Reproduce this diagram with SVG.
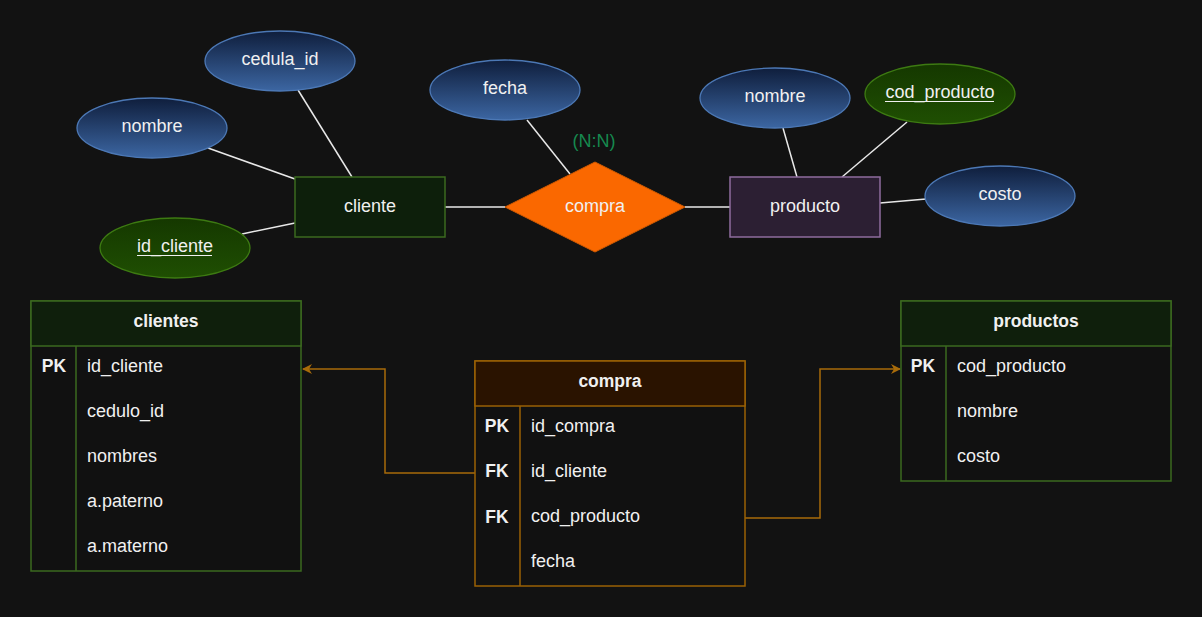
<svg xmlns="http://www.w3.org/2000/svg" width="1202" height="617" viewBox="0 0 1202 617">
<defs>
<linearGradient id="blueGrad" x1="0" y1="0" x2="0" y2="1">
<stop offset="0" stop-color="#0f1e3c"/>
<stop offset="1" stop-color="#3c66a2"/>
</linearGradient>
<linearGradient id="greenGrad" x1="0" y1="0" x2="0" y2="1">
<stop offset="0" stop-color="#153800"/>
<stop offset="1" stop-color="#1f4f02"/>
</linearGradient>
<marker id="arr" viewBox="0 0 10 10" refX="9" refY="5" markerWidth="10" markerHeight="10" markerUnits="userSpaceOnUse" orient="auto">
<path d="M0,0 L10,5 L0,10 L3,5 Z" fill="#a86b0a"/>
</marker>
<style>
text{font-family:"Liberation Sans",Arial,sans-serif;font-size:18px;fill:#f0f0f0}
.c{text-anchor:middle;dominant-baseline:central}
.l{dominant-baseline:central}
.b{font-weight:bold;font-size:17.5px}
.attr{fill:url(#blueGrad);stroke:#4c78b5;stroke-width:1.3}
.key{fill:url(#greenGrad);stroke:#3d7a12;stroke-width:1.3}
.conn{stroke:#e8e8e8;stroke-width:1.5;fill:none}
.fk{stroke:#a86b0a;stroke-width:1.5;fill:none}
.gt{fill:#111111;stroke:#3b6a1f;stroke-width:1.5}
.gh{fill:#0f1f0c;stroke:#3b6a1f;stroke-width:1.5}
.ot{fill:#111111;stroke:#9a6104;stroke-width:1.5}
.oh{fill:#2a1300;stroke:#9a6104;stroke-width:1.5}
.ul{stroke:#f0f0f0;stroke-width:1.2}
</style>
</defs>
<rect width="1202" height="617" fill="#121212"/>
<g id="connectors">
<line class="conn" x1="208" y1="148" x2="295" y2="179"/>
<line class="conn" x1="298" y1="90" x2="352" y2="177"/>
<line class="conn" x1="242" y1="234" x2="295" y2="223"/>
<line class="conn" x1="445" y1="207" x2="505" y2="207"/>
<line class="conn" x1="527" y1="120" x2="570" y2="174"/>
<line class="conn" x1="685" y1="207" x2="730" y2="207"/>
<line class="conn" x1="783" y1="128" x2="797" y2="177"/>
<line class="conn" x1="907" y1="122" x2="842" y2="177"/>
<line class="conn" x1="880" y1="203" x2="926" y2="199"/>
<polyline class="fk" points="475,473 385,473 385,369 303,369" marker-end="url(#arr)"/>
<polyline class="fk" points="745,518 820,518 820,369 900,369" marker-end="url(#arr)"/>
</g>
<g id="attr-cedula_id"><ellipse class="attr" cx="280" cy="61" rx="75" ry="30"/><text class="c" x="280" y="59">cedula_id</text></g>
<g id="attr-nombre-cliente"><ellipse class="attr" cx="152" cy="128" rx="75" ry="30"/><text class="c" x="152" y="126">nombre</text></g>
<g id="attr-id_cliente"><ellipse class="key" cx="175" cy="248" rx="75" ry="30"/><text class="c" x="175" y="246">id_cliente</text><line class="ul" x1="137" y1="255.5" x2="212" y2="255.5"/></g>
<g id="entity-cliente"><rect x="295" y="177" width="150" height="60" fill="#0d1f0b" stroke="#3b6a1f" stroke-width="1.5"/><text class="c" x="370" y="206">cliente</text></g>
<g id="attr-fecha"><ellipse class="attr" cx="505" cy="90" rx="75" ry="30"/><text class="c" x="505" y="88">fecha</text></g>
<g id="rel-compra"><polygon points="595,162 685,207 595,252 505,207" fill="#fa6800" stroke="#d05a00" stroke-width="1"/><text class="c" x="595" y="206">compra</text><text class="c" x="594" y="141" style="fill:#16894f">(N:N)</text></g>
<g id="entity-producto"><rect x="730" y="177" width="150" height="60" fill="#2c1f33" stroke="#8e6c9e" stroke-width="1.5"/><text class="c" x="805" y="206">producto</text></g>
<g id="attr-nombre-producto"><ellipse class="attr" cx="775" cy="98" rx="75" ry="30"/><text class="c" x="775" y="96">nombre</text></g>
<g id="attr-cod_producto"><ellipse class="key" cx="940" cy="94" rx="75" ry="30"/><text class="c" x="940" y="92">cod_producto</text><line class="ul" x1="885" y1="101.5" x2="994" y2="101.5"/></g>
<g id="attr-costo"><ellipse class="attr" cx="1000" cy="196" rx="75" ry="30"/><text class="c" x="1000" y="194">costo</text></g>
<g id="table-clientes">
<rect class="gt" x="31" y="301" width="270" height="270"/>
<rect class="gh" x="31" y="301" width="270" height="45"/>
<line x1="76" y1="346" x2="76" y2="571" stroke="#3b6a1f" stroke-width="1.5"/>
<text class="c b" x="166" y="321">clientes</text>
<text class="c b" x="54" y="366">PK</text>
<text class="l" x="87" y="366">id_cliente</text>
<text class="l" x="87" y="411">cedulo_id</text>
<text class="l" x="87" y="456">nombres</text>
<text class="l" x="87" y="501">a.paterno</text>
<text class="l" x="87" y="546">a.materno</text>
</g>
<g id="table-compra">
<rect class="ot" x="475" y="361" width="270" height="225"/>
<rect class="oh" x="475" y="361" width="270" height="45"/>
<line x1="520" y1="406" x2="520" y2="586" stroke="#9a6104" stroke-width="1.5"/>
<text class="c b" x="610" y="381">compra</text>
<text class="c b" x="497" y="426">PK</text>
<text class="l" x="531" y="426">id_compra</text>
<text class="c b" x="497" y="471">FK</text>
<text class="l" x="531" y="471">id_cliente</text>
<text class="c b" x="497" y="517">FK</text>
<text class="l" x="531" y="516">cod_producto</text>
<text class="l" x="531" y="561">fecha</text>
</g>
<g id="table-productos">
<rect class="gt" x="901" y="301" width="270" height="180"/>
<rect class="gh" x="901" y="301" width="270" height="45"/>
<line x1="946" y1="346" x2="946" y2="481" stroke="#3b6a1f" stroke-width="1.5"/>
<text class="c b" x="1036" y="321">productos</text>
<text class="c b" x="923" y="366">PK</text>
<text class="l" x="957" y="366">cod_producto</text>
<text class="l" x="957" y="411">nombre</text>
<text class="l" x="957" y="456">costo</text>
</g>
</svg>
